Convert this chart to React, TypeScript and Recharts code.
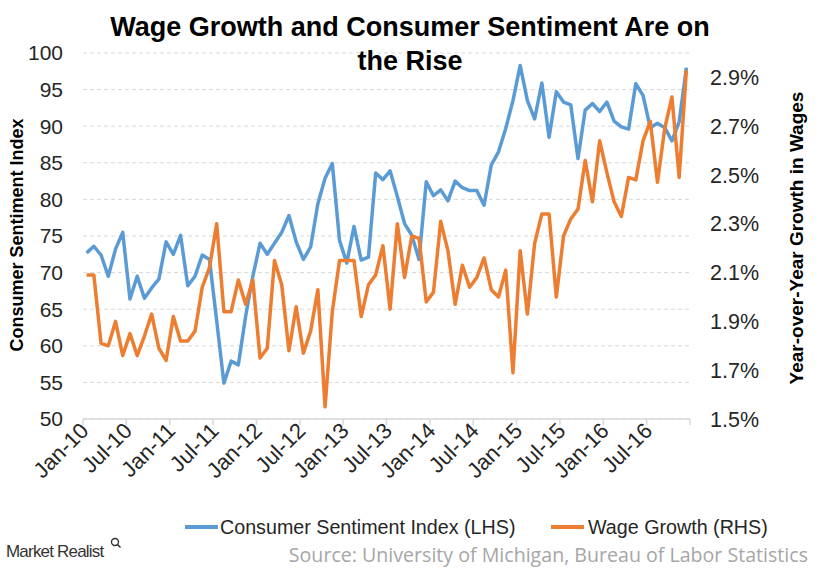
import React from 'react';
import { LineChart, Line, XAxis, YAxis, CartesianGrid } from 'recharts';

// Monthly categories Jan-10 .. Dec-16 (index 0..83); tick labels every 6 months
const tickLabels = ['Jan-10', 'Jul-10', 'Jan-11', 'Jul-11', 'Jan-12', 'Jul-12', 'Jan-13', 'Jul-13', 'Jan-14', 'Jul-14', 'Jan-15', 'Jul-15', 'Jan-16', 'Jul-16', ''];

const sentiment = [
  72.7, 73.6, 72.4, 69.5, 73.2, 75.5, 66.4, 69.5, 66.5, 67.9, 69.1, 74.2,
  72.5, 75.1, 68.2, 69.5, 72.4, 71.8, 63.4, 54.9, 57.9, 57.4, 64.0, 69.5,
  74.0, 72.5, 74.0, 75.5, 77.8, 74.2, 71.8, 73.5, 79.4, 82.9, 84.9, 74.4,
  71.3, 76.3, 71.7, 72.1, 83.6, 82.7, 83.9, 80.4, 76.7, 75.1, 71.8, 82.4,
  80.5, 81.3, 79.8, 82.5, 81.6, 81.2, 81.2, 79.2, 84.7, 86.5, 89.7, 93.5,
  98.3, 93.5, 91.0, 95.9, 88.5, 94.7, 93.3, 92.9, 85.6, 92.2, 93.1, 92.0,
  93.3, 90.7, 89.9, 89.6, 95.8, 94.2, 89.8, 90.4, 89.8, 88.0, 90.6, 98.0,
];

const wageGrowth = [
  2.09, 2.09, 1.81, 1.80, 1.90, 1.76, 1.85, 1.76, 1.84, 1.93, 1.79, 1.74,
  1.92, 1.82, 1.82, 1.86, 2.04, 2.12, 2.30, 1.94, 1.94, 2.07, 1.97, 2.07,
  1.75, 1.79, 2.15, 2.05, 1.78, 1.96, 1.77, 1.86, 2.03, 1.55, 1.94, 2.15,
  2.15, 2.15, 1.92, 2.05, 2.09, 2.21, 1.95, 2.30, 2.08, 2.25, 2.24, 1.98,
  2.02, 2.31, 2.19, 1.97, 2.13, 2.04, 2.08, 2.16, 2.03, 2.00, 2.11, 1.69,
  2.19, 1.93, 2.22, 2.34, 2.34, 2.00, 2.25, 2.32, 2.36, 2.56, 2.39, 2.64,
  2.51, 2.39, 2.33, 2.49, 2.48, 2.64, 2.72, 2.47, 2.69, 2.82, 2.49, 2.93,
];

const leftTicks = [50, 55, 60, 65, 70, 75, 80, 85, 90, 95, 100];
const rightTicks = [1.5, 1.7, 1.9, 2.1, 2.3, 2.5, 2.7, 2.9];
const xTicks = tickLabels.map((_, k) => k * 6 - 0.5);

const data = sentiment.map((s, i) => ({ idx: i, sentiment: s, wage: wageGrowth[i] }));

const BLUE = '#5B9BD5';
const ORANGE = '#ED7D31';
const FONT = '"Liberation Sans", Arial, sans-serif';
const TEXT = '#262626';

const XTick = (props: any) => {
  const { x, y, payload } = props;
  const k = Math.round((payload.value + 0.5) / 6);
  const label = tickLabels[k] || '';
  return (
    <g transform={`translate(${x + 7},${y + 5})`}>
      <text x={0} y={0} textAnchor="end" transform="rotate(-45)" fill={TEXT} fontSize={22} fontFamily={FONT}>
        {label}
      </text>
    </g>
  );
};

export default function App() {
  return (
    <div style={{ position: 'absolute', left: 0, top: 0, width: 820, height: 570, background: '#fff', fontFamily: FONT }}>
      <LineChart width={820} height={570} data={data} margin={{ top: 53, right: 0, bottom: 0, left: 0 }}>
        <CartesianGrid yAxisId="left" vertical={false} stroke="#d9d9d9" strokeDasharray="4 3" />
        <XAxis
          type="number"
          dataKey="idx"
          domain={[-0.5, 83.5]}
          ticks={xTicks}
          interval={0}
          height={151}
          axisLine={{ stroke: '#d9d9d9', strokeWidth: 1.5 }}
          tickLine={{ stroke: '#d9d9d9', strokeWidth: 1.5 }}
          tickSize={6}
          tick={<XTick />}
        />
        <YAxis
          yAxisId="left"
          domain={[50, 100]}
          ticks={leftTicks}
          interval={0}
          width={83}
          axisLine={false}
          tickLine={false}
          tickSize={0}
          tickMargin={20}
          tick={{ fill: TEXT, fontSize: 21, fontFamily: FONT }}
        />
        <YAxis
          yAxisId="right"
          orientation="right"
          domain={[1.5, 3.0]}
          ticks={rightTicks}
          interval={0}
          width={130}
          axisLine={false}
          tickLine={false}
          tickSize={0}
          tickMargin={20}
          tickFormatter={(v: number) => `${v.toFixed(1)}%`}
          tick={{ fill: TEXT, fontSize: 21.5, fontFamily: FONT }}
        />
        <Line
          yAxisId="left"
          type="linear"
          dataKey="sentiment"
          stroke={BLUE}
          strokeWidth={3.5}
          strokeLinejoin="round"
          dot={false}
          activeDot={false}
          isAnimationActive={false}
        />
        <Line
          yAxisId="right"
          type="linear"
          dataKey="wage"
          stroke={ORANGE}
          strokeWidth={3.5}
          strokeLinejoin="round"
          dot={false}
          activeDot={false}
          isAnimationActive={false}
        />
      </LineChart>

      {/* Title */}
      <div style={{ position: 'absolute', left: 0, top: 10, width: 820, textAlign: 'center', fontWeight: 'bold', fontSize: 27, lineHeight: '34px', color: '#000' }}>
        Wage Growth and Consumer Sentiment Are on
        <br />
        the Rise
      </div>

      {/* Axis titles */}
      <div style={{ position: 'absolute', left: 17, top: 235, transform: 'translate(-50%, -50%) rotate(-90deg)', whiteSpace: 'nowrap', fontWeight: 'bold', fontSize: 18, color: '#000' }}>
        Consumer Sentiment Index
      </div>
      <div style={{ position: 'absolute', left: 797, top: 238, transform: 'translate(-50%, -50%) rotate(-90deg)', whiteSpace: 'nowrap', fontWeight: 'bold', fontSize: 19, color: '#000' }}>
        Year-over-Year Growth in Wages
      </div>

      {/* Legend */}
      <div style={{ position: 'absolute', left: 185, top: 525, width: 33, height: 4, background: BLUE }} />
      <div style={{ position: 'absolute', left: 220, top: 514, fontSize: 19.7, lineHeight: '26px', color: TEXT, whiteSpace: 'nowrap' }}>
        Consumer Sentiment Index (LHS)
      </div>
      <div style={{ position: 'absolute', left: 551, top: 525, width: 33, height: 4, background: ORANGE }} />
      <div style={{ position: 'absolute', left: 588, top: 514, fontSize: 19.7, lineHeight: '26px', color: TEXT, whiteSpace: 'nowrap' }}>
        Wage Growth (RHS)
      </div>

      {/* Footer */}
      <div style={{ position: 'absolute', left: 6, top: 540, fontSize: 17, lineHeight: '24px', color: '#333', whiteSpace: 'nowrap', letterSpacing: -0.8 }}>
        Market Realist
      </div>
      <svg style={{ position: 'absolute', left: 110, top: 537 }} width={12} height={12}>
        <circle cx={5} cy={5} r={3.5} fill="none" stroke="#333" strokeWidth={1.4} />
        <line x1={7.5} y1={7.5} x2={10.5} y2={10.5} stroke="#333" strokeWidth={1.6} />
      </svg>
      <div style={{ position: 'absolute', right: 12, top: 541, fontSize: 19.6, lineHeight: '28px', color: '#a6a6a6', whiteSpace: 'nowrap', fontFamily: '"Open Sans", sans-serif' }}>
        Source: University of Michigan, Bureau of Labor Statistics
      </div>
    </div>
  );
}
